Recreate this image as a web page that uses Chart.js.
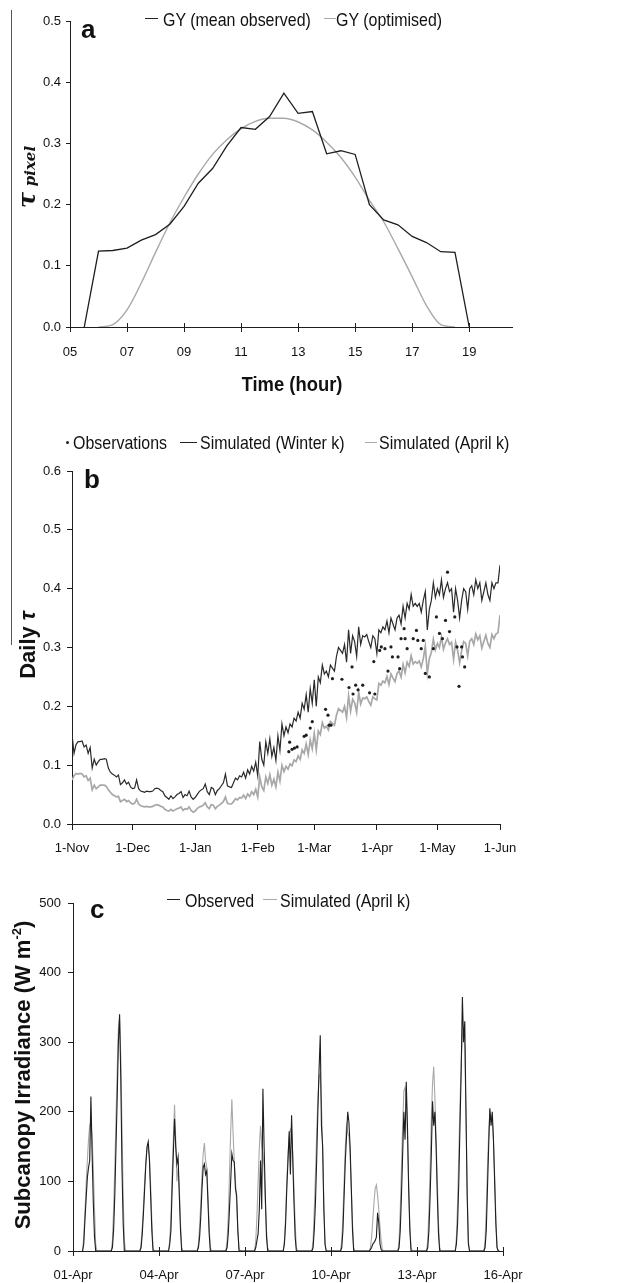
<!DOCTYPE html>
<html>
<head>
<meta charset="utf-8">
<script src="https://cdn.jsdelivr.net/npm/chart.js@4.4.0/dist/chart.umd.min.js"></script>
<style>
  body { margin: 0; background: #fff; width: 644px; height: 1283px; position: relative; overflow: hidden;
         font-family: "Liberation Sans", Arial, sans-serif; color: #111; }
  canvas { position: absolute; left: 0; }
  .t { position: absolute; white-space: nowrap; line-height: 1; }
  .leg { font-size: 19px; transform: scaleX(0.84); transform-origin: 0 0; }
  .dash { position: absolute; height: 1.2px; }
  .letter { font-size: 26px; font-weight: bold; }
  .rot { position: absolute; white-space: nowrap; transform: translate(-50%, -50%) rotate(-90deg); font-weight: bold; line-height: 1; }
</style>
</head>
<body>
<div style="position:absolute;left:11px;top:10px;width:1px;height:635px;background:#555"></div>

<canvas id="chartA" width="644" height="400" style="top:0"></canvas>
<canvas id="chartB" width="644" height="440" style="top:430px"></canvas>
<canvas id="chartC" width="644" height="403" style="top:880px"></canvas>

<!-- panel a texts -->
<div class="dash" style="left:145px;top:18px;width:13px;background:#222"></div>
<div class="t leg" style="left:163px;top:10px">GY (mean observed)</div>
<div class="dash" style="left:324px;top:18px;width:12px;background:#aaa"></div>
<div class="t leg" style="left:336px;top:10px">GY (optimised)</div>
<div class="t letter" style="left:81px;top:16px">a</div>
<div class="rot" style="left:27px;top:177px;font-family:'DejaVu Serif','Liberation Serif',serif;font-style:italic"><span style="font-size:24px">τ</span> <span style="font-size:15px">pixel</span></div>
<div class="t" style="left:292px;top:374px;font-size:20px;font-weight:bold;transform:translateX(-50%) scaleX(0.92)">Time (hour)</div>

<!-- panel b texts -->
<div style="position:absolute;left:66px;top:441px;width:3px;height:3px;border-radius:50%;background:#222"></div>
<div class="t leg" style="left:73px;top:433px">Observations</div>
<div class="dash" style="left:180px;top:442px;width:17px;background:#222"></div>
<div class="t leg" style="left:200px;top:433px">Simulated (Winter k)</div>
<div class="dash" style="left:365px;top:442px;width:12px;background:#aaa"></div>
<div class="t leg" style="left:379px;top:433px">Simulated (April k)</div>
<div class="t letter" style="left:84px;top:466px">b</div>
<div class="rot" style="left:28px;top:645px;font-size:22px">Daily <span style="font-style:italic">τ</span></div>

<!-- panel c texts -->
<div class="dash" style="left:167px;top:899px;width:13px;background:#222"></div>
<div class="t leg" style="left:185px;top:891px">Observed</div>
<div class="dash" style="left:263px;top:899px;width:14px;background:#aaa"></div>
<div class="t leg" style="left:280px;top:891px">Simulated (April k)</div>
<div class="t letter" style="left:90px;top:896px">c</div>
<div class="rot" style="left:22px;top:1075px;font-size:22px">Subcanopy Irradiance (W m<sup style="font-size:13px">-2</sup>)</div>

<script>
// ---- panel a: hourly transmissivity
const hoursObserved = [5.5, 6, 6.5, 7, 7.5, 8, 8.5, 9, 9.5, 10, 10.5, 11, 11.5, 12, 12.5, 13, 13.5, 14,
  14.5, 15, 15.5, 16, 16.5, 17, 17.5, 18, 18.5, 19];
const tauMeanObserved = [0, 0.124, 0.125, 0.129, 0.142, 0.151, 0.168, 0.197, 0.235, 0.259, 0.296, 0.326,
  0.323, 0.344, 0.382, 0.349, 0.352, 0.283, 0.288, 0.282, 0.200, 0.175, 0.167, 0.148, 0.138, 0.123, 0.122, 0];
const hoursOptimised = [6, 6.5, 7, 7.5, 8, 8.5, 9, 9.5, 10, 10.5, 11, 11.5, 12, 12.5, 13, 13.5, 14, 14.5,
  15, 15.5, 16, 16.5, 17, 17.5, 18, 18.5];
const tauOptimised = [0, 0.004, 0.028, 0.072, 0.122, 0.170, 0.212, 0.250, 0.282, 0.306, 0.324, 0.336, 0.341,
  0.341, 0.335, 0.322, 0.302, 0.277, 0.245, 0.207, 0.172, 0.128, 0.082, 0.035, 0.004, 0];
const hourTicks = [5, 7, 9, 11, 13, 15, 17, 19];

// ---- panel b: daily transmissivity, day 0 = 1-Nov
const monthStarts = [0, 30, 61, 92, 120, 151, 181, 212];
const monthLabels = ['1-Nov', '1-Dec', '1-Jan', '1-Feb', '1-Mar', '1-Apr', '1-May', '1-Jun'];
const tauWinterK = [
  0.153, 0.120, 0.135, 0.140, 0.140, 0.141, 0.131, 0.134, 0.120, 0.130,
  0.095, 0.110, 0.100, 0.106, 0.110, 0.110, 0.111, 0.110, 0.095, 0.088,
  0.085, 0.083, 0.080, 0.083, 0.067, 0.070, 0.075, 0.068, 0.071, 0.063,
  0.060, 0.061, 0.075, 0.060, 0.056, 0.055, 0.054, 0.056, 0.055, 0.055,
  0.056, 0.060, 0.061, 0.060, 0.057, 0.055, 0.048, 0.045, 0.042, 0.048,
  0.043, 0.046, 0.050, 0.052, 0.055, 0.045, 0.050, 0.048, 0.056, 0.046,
  0.042, 0.045, 0.050, 0.055, 0.058, 0.060, 0.068, 0.055, 0.050, 0.062,
  0.060, 0.050, 0.057, 0.060, 0.065, 0.070, 0.085, 0.065, 0.063, 0.062,
  0.070, 0.078, 0.075, 0.082, 0.080, 0.088, 0.078, 0.092, 0.085, 0.098,
  0.090, 0.105, 0.082, 0.140, 0.110, 0.100, 0.140, 0.120, 0.145, 0.115,
  0.130, 0.108, 0.150, 0.125, 0.170, 0.150, 0.165, 0.155, 0.170, 0.165,
  0.180, 0.175, 0.190, 0.180, 0.205, 0.195, 0.220, 0.190, 0.230, 0.205,
  0.245, 0.200, 0.250, 0.240, 0.270, 0.255, 0.260, 0.250, 0.270, 0.265,
  0.260, 0.285, 0.300, 0.295, 0.290, 0.305, 0.275, 0.330, 0.290, 0.320,
  0.310, 0.285, 0.335, 0.305, 0.320, 0.318, 0.322, 0.310, 0.300, 0.320,
  0.315, 0.290, 0.330, 0.325, 0.335, 0.330, 0.345, 0.325, 0.350, 0.340,
  0.330, 0.350, 0.355, 0.340, 0.370, 0.350, 0.375, 0.365, 0.390, 0.370,
  0.375, 0.370, 0.375, 0.360, 0.380, 0.395, 0.330, 0.365, 0.380, 0.410,
  0.385, 0.400, 0.390, 0.415, 0.385, 0.400, 0.410, 0.395, 0.400, 0.360,
  0.400, 0.380, 0.350, 0.380, 0.400, 0.395, 0.365, 0.400, 0.405, 0.390,
  0.415, 0.400, 0.410, 0.380, 0.395, 0.410, 0.390, 0.380, 0.410, 0.400,
  0.410, 0.410, 0.440
];
const tauAprilK = [
  0.075, 0.082, 0.086, 0.085, 0.086, 0.085, 0.080, 0.082, 0.074, 0.078,
  0.058, 0.066, 0.060, 0.063, 0.066, 0.066, 0.066, 0.064, 0.058, 0.054,
  0.050, 0.048, 0.046, 0.047, 0.038, 0.040, 0.042, 0.038, 0.040, 0.036,
  0.034, 0.035, 0.042, 0.034, 0.031, 0.030, 0.029, 0.030, 0.029, 0.029,
  0.030, 0.032, 0.033, 0.032, 0.030, 0.029, 0.025, 0.023, 0.022, 0.025,
  0.022, 0.024, 0.026, 0.027, 0.029, 0.023, 0.026, 0.025, 0.029, 0.023,
  0.020, 0.022, 0.026, 0.029, 0.030, 0.032, 0.036, 0.029, 0.026, 0.033,
  0.032, 0.026, 0.030, 0.032, 0.035, 0.038, 0.046, 0.035, 0.034, 0.034,
  0.038, 0.043, 0.041, 0.045, 0.044, 0.049, 0.043, 0.051, 0.047, 0.055,
  0.050, 0.059, 0.046, 0.080, 0.063, 0.057, 0.080, 0.069, 0.084, 0.066,
  0.076, 0.063, 0.088, 0.073, 0.100, 0.089, 0.098, 0.093, 0.102, 0.099,
  0.109, 0.106, 0.116, 0.110, 0.126, 0.120, 0.136, 0.118, 0.143, 0.128,
  0.154, 0.126, 0.158, 0.152, 0.172, 0.163, 0.166, 0.160, 0.174, 0.171,
  0.168, 0.185, 0.196, 0.193, 0.190, 0.200, 0.181, 0.218, 0.192, 0.212,
  0.206, 0.190, 0.224, 0.204, 0.214, 0.213, 0.216, 0.208, 0.202, 0.216,
  0.213, 0.211, 0.239, 0.236, 0.243, 0.240, 0.251, 0.237, 0.255, 0.248,
  0.242, 0.256, 0.260, 0.250, 0.271, 0.257, 0.275, 0.268, 0.286, 0.272,
  0.276, 0.273, 0.277, 0.267, 0.281, 0.302, 0.256, 0.281, 0.292, 0.314,
  0.296, 0.307, 0.300, 0.318, 0.297, 0.308, 0.315, 0.305, 0.309, 0.280,
  0.309, 0.295, 0.274, 0.295, 0.310, 0.307, 0.286, 0.311, 0.315, 0.305,
  0.323, 0.313, 0.320, 0.299, 0.310, 0.321, 0.307, 0.300, 0.322, 0.315,
  0.323, 0.325, 0.355
];
const obsDays = [107.4, 107.8, 109, 110.2, 111.5, 115, 116, 118, 119, 125.6, 126.8, 127.3, 128.3, 129,
  133.7, 137.2, 138.7, 139.2, 140.5, 141.7, 144, 147.4, 149.5, 150, 152.4, 153.2, 155, 156.5, 158, 158.7,
  161.5, 162.3, 163, 164.5, 165, 166, 169, 170.6, 171.3, 173, 174, 175, 177, 179, 180.5, 182, 183.5, 185,
  186, 187, 189.6, 190.7, 191.7, 193, 193.4, 194.5];
const obsTau = [0.123, 0.139, 0.127, 0.129, 0.131, 0.149, 0.151, 0.163, 0.174, 0.195, 0.185, 0.168, 0.168, 0.247,
  0.246, 0.232, 0.267, 0.221, 0.236, 0.228, 0.236, 0.223, 0.276, 0.221, 0.295, 0.301, 0.298, 0.260, 0.301, 0.284,
  0.284, 0.264, 0.315, 0.332, 0.315, 0.298, 0.315, 0.329, 0.312, 0.298, 0.312, 0.256, 0.250, 0.298, 0.352, 0.324, 0.315, 0.346,
  0.428, 0.327, 0.352, 0.301, 0.234, 0.301, 0.284, 0.267];

// ---- panel c: subcanopy irradiance, day 0 = 01-Apr, hourly values 08h..21h
const dayTicks = [0, 3, 6, 9, 12, 15];
const dayLabels = ['01-Apr', '04-Apr', '07-Apr', '10-Apr', '13-Apr', '16-Apr'];
const daylightHours = [8, 9, 10, 11, 12, 13, 14, 15, 16, 17, 18, 19, 20, 21];
const irrObserved = [
  [0, 10, 45, 75, 105, 120, 130, 222, 140, 70, 20, 0, 0, 0],
  [0, 5, 30, 80, 150, 220, 300, 340, 250, 120, 40, 0, 0, 0],
  [0, 5, 25, 55, 90, 125, 150, 157, 130, 80, 30, 0, 0, 0],
  [0, 10, 30, 90, 140, 190, 150, 125, 135, 80, 30, 0, 0, 0],
  [0, 5, 20, 50, 90, 120, 125, 110, 115, 70, 25, 0, 0, 0],
  [0, 5, 25, 60, 100, 140, 130, 128, 90, 80, 30, 0, 0, 0],
  [0, 5, 15, 25, 60, 130, 60, 233, 150, 80, 20, 0, 0, 0],
  [0, 10, 40, 90, 130, 172, 110, 195, 130, 70, 20, 0, 0, 0],
  [0, 5, 30, 70, 130, 200, 260, 310, 180, 150, 60, 10, 0, 0],
  [0, 5, 30, 80, 130, 165, 200, 185, 150, 90, 30, 0, 0, 0],
  [0, 2, 5, 10, 12, 15, 20, 55, 40, 10, 2, 0, 0, 0],
  [0, 5, 30, 80, 140, 200, 160, 243, 180, 90, 30, 0, 0, 0],
  [0, 5, 30, 80, 140, 215, 180, 200, 150, 80, 25, 0, 0, 0],
  [0, 10, 40, 100, 180, 260, 365, 300, 330, 200, 80, 10, 0, 0],
  [0, 5, 30, 90, 150, 205, 180, 200, 160, 100, 40, 5, 0, 0]
];
const irrSimulated = [
  [0, 20, 55, 95, 130, 160, 180, 185, 165, 120, 60, 10, 0, 0],
  [0, 15, 60, 120, 190, 260, 320, 335, 280, 180, 80, 15, 0, 0],
  [0, 10, 35, 65, 100, 130, 148, 150, 135, 95, 45, 5, 0, 0],
  [0, 15, 50, 110, 160, 210, 160, 100, 120, 90, 40, 5, 0, 0],
  [0, 10, 35, 70, 110, 140, 155, 130, 120, 80, 35, 5, 0, 0],
  [0, 15, 50, 110, 170, 218, 170, 130, 100, 70, 30, 5, 0, 0],
  [0, 15, 50, 100, 150, 180, 150, 140, 120, 70, 30, 5, 0, 0],
  [0, 15, 50, 100, 140, 165, 175, 170, 140, 90, 40, 5, 0, 0],
  [0, 15, 60, 110, 170, 220, 250, 255, 210, 150, 70, 10, 0, 0],
  [0, 15, 50, 100, 150, 180, 170, 165, 140, 90, 40, 5, 0, 0],
  [0, 5, 20, 45, 70, 90, 95, 80, 60, 35, 15, 2, 0, 0],
  [0, 15, 60, 120, 180, 230, 235, 220, 170, 100, 40, 5, 0, 0],
  [0, 15, 60, 120, 190, 240, 265, 220, 160, 100, 40, 5, 0, 0],
  [0, 20, 70, 140, 210, 270, 310, 320, 290, 200, 90, 15, 0, 0],
  [0, 15, 60, 120, 170, 200, 195, 190, 160, 110, 50, 5, 0, 0]
];

const DARK = '#1e1e1e';
const GREY = '#a8a8a8';

Chart.defaults.font.family = '"Liberation Sans", Arial, sans-serif';
Chart.defaults.font.size = 13;
Chart.defaults.color = '#111';

const pairs = (xs, ys) => xs.map((x, i) => ({ x: x, y: ys[i] }));
const byDay = (rows) => rows.flatMap((vals, d) => vals.map((v, i) => ({ x: d + daylightHours[i] / 24, y: v })));

// tick marks that also stick up into the plot (Excel "cross" ticks)
const crossTicks = {
  id: 'crossTicks',
  afterDraw(chart) {
    const xs = chart.scales.x;
    const ctx = chart.ctx;
    ctx.save();
    ctx.strokeStyle = DARK;
    ctx.lineWidth = 1;
    xs.ticks.forEach(t => {
      const px = Math.round(xs.getPixelForValue(t.value)) + 0.5;
      ctx.beginPath();
      ctx.moveTo(px, xs.top - 4);
      ctx.lineTo(px, xs.top);
      ctx.stroke();
    });
    ctx.restore();
  }
};

function axis(opts) {
  return Object.assign({
    type: 'linear',
    grid: { drawOnChartArea: false, drawTicks: true, tickLength: 5, color: DARK },
    border: { color: DARK, width: 1 },
    ticks: { color: '#111', padding: 5 }
  }, opts);
}

function baseOptions(pad, scales) {
  return {
    responsive: false,
    animation: false,
    devicePixelRatio: 1,
    layout: { padding: pad },
    plugins: { legend: { display: false }, tooltip: { enabled: false } },
    scales: scales
  };
}

// panel a
new Chart(document.getElementById('chartA'), {
  type: 'scatter',
  data: {
    datasets: [
      { label: 'GY (mean observed)', data: pairs(hoursObserved, tauMeanObserved), showLine: true,
        borderColor: DARK, borderWidth: 1.3, pointRadius: 0, tension: 0 },
      { label: 'GY (optimised)', data: pairs(hoursOptimised, tauOptimised), showLine: true,
        borderColor: GREY, borderWidth: 1.4, pointRadius: 0, cubicInterpolationMode: 'monotone' }
    ]
  },
  options: baseOptions({ top: 21, right: 132, left: 0, bottom: 0 }, {
    x: axis({
      min: 5, max: 20.5,
      afterBuildTicks: s => { s.ticks = hourTicks.map(v => ({ value: v })); },
      afterFit: s => { s.height = 73; },
      ticks: { color: '#111', padding: 13, maxRotation: 0, callback: v => String(v).padStart(2, '0') }
    }),
    y: axis({
      min: 0, max: 0.5,
      grid: { drawOnChartArea: false, drawTicks: true, tickLength: 4, color: DARK },
      afterFit: s => { s.width = 70; },
      ticks: { color: '#111', padding: 5, stepSize: 0.1, callback: v => v.toFixed(1) }
    })
  }),
  plugins: [crossTicks]
});

// panel b
new Chart(document.getElementById('chartB'), {
  type: 'scatter',
  data: {
    datasets: [
      { label: 'Observations', data: pairs(obsDays, obsTau), showLine: false,
        pointRadius: 1.6, pointBackgroundColor: DARK, pointBorderWidth: 0 },
      { label: 'Simulated (Winter k)', data: tauWinterK.map((y, d) => ({ x: d, y: y })), showLine: true,
        borderColor: '#2a2a2a', borderWidth: 1.2, pointRadius: 0, tension: 0 },
      { label: 'Simulated (April k)', data: tauAprilK.map((y, d) => ({ x: d, y: y })), showLine: true,
        borderColor: GREY, borderWidth: 1.7, pointRadius: 0, tension: 0 }
    ]
  },
  options: baseOptions({ top: 41, right: 144, left: 0, bottom: 0 }, {
    x: axis({
      min: 0, max: 212,
      afterBuildTicks: s => { s.ticks = monthStarts.map(v => ({ value: v })); },
      afterFit: s => { s.height = 46; },
      grid: { drawOnChartArea: false, drawTicks: true, tickLength: 6, color: DARK },
      ticks: { color: '#111', padding: 11, maxRotation: 0, callback: (v, i) => monthLabels[i] }
    }),
    y: axis({
      min: 0, max: 0.6,
      afterFit: s => { s.width = 72; },
      ticks: { color: '#111', padding: 6, stepSize: 0.1, callback: v => v.toFixed(1) }
    })
  })
});

// panel c
new Chart(document.getElementById('chartC'), {
  type: 'scatter',
  data: {
    datasets: [
      { label: 'Observed', data: byDay(irrObserved), showLine: true,
        borderColor: DARK, borderWidth: 1.1, pointRadius: 0, tension: 0 },
      { label: 'Simulated (April k)', data: byDay(irrSimulated), showLine: true,
        borderColor: GREY, borderWidth: 1.1, pointRadius: 0, tension: 0 }
    ]
  },
  options: baseOptions({ top: 23, right: 141, left: 0, bottom: 0 }, {
    x: axis({
      min: 0, max: 15,
      afterBuildTicks: s => { s.ticks = dayTicks.map(v => ({ value: v })); },
      afterFit: s => { s.height = 32; },
      ticks: { color: '#111', padding: 12, maxRotation: 0, callback: (v, i) => dayLabels[i] }
    }),
    y: axis({
      min: 0, max: 500,
      afterFit: s => { s.width = 73; },
      ticks: { color: '#111', padding: 7, stepSize: 100 }
    })
  }),
  plugins: [crossTicks]
});
</script>
</body>
</html>
